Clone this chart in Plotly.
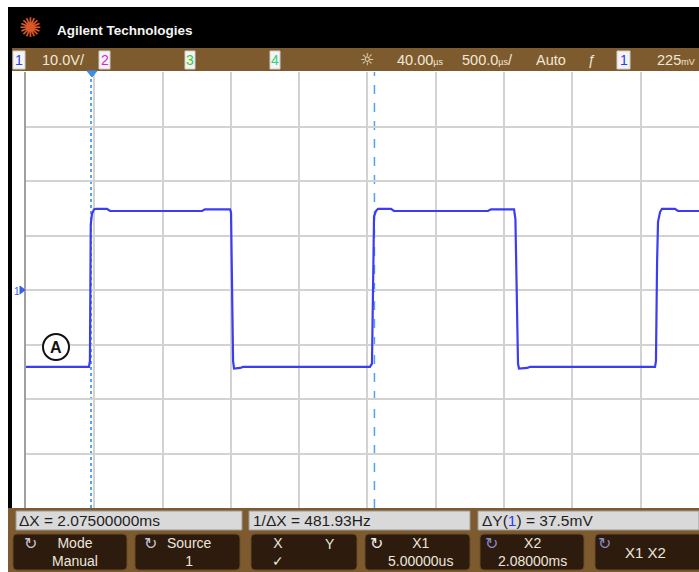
import plotly.graph_objects as go

time_ms = [-0.471, -0.010, -0.003, 0.003, 0.012, 0.027, 0.041, 0.122, 0.144, 0.818, 0.839,
           1.023, 1.030, 1.045, 1.052, 1.096, 1.118,
           2.047, 2.062, 2.069, 2.077, 2.091, 2.106, 2.201, 2.223, 2.911, 2.933,
           3.102, 3.112, 3.131, 3.138, 3.197, 3.219,
           4.134, 4.141, 4.149, 4.156, 4.171, 4.185, 4.280, 4.302, 4.456]
volts = [-14.1, -14.1, -13.0, 12.0, 14.0, 14.8, 14.9, 14.9, 14.5, 14.5, 14.8,
         14.8, 14.2, -13.0, -14.4, -14.3, -14.1,
         -14.1, -13.5, 5.0, 13.5, 14.5, 14.9, 14.9, 14.5, 14.5, 14.8,
         14.8, 13.0, -13.5, -14.4, -14.3, -14.1,
         -14.1, -13.0, 5.0, 12.5, 14.3, 14.9, 14.9, 14.5, 14.5]

cursor_x1_ms = 0.005
cursor_x2_ms = 2.08
volts_per_div = 10.0
time_per_div_ms = 0.5
screen_left_ms = -0.471
screen_right_ms = 4.456
volt_range = [-40, 40]

brand = "Agilent Technologies"
ch_scale = "10.0V/"
h_delay = ("40.00", "µs")
h_scale = ("500.0", "µs", "/")
trig_mode = "Auto"
trig_level = ("225", "mV")
meas_dx = "ΔX = 2.07500000ms"
meas_inv = "1/ΔX = 481.93Hz"
meas_dy_pre = "ΔY("
meas_dy_ch = "1"
meas_dy_post = ") = 37.5mV"
softkeys = [("Mode", "Manual"), ("Source", "1"), ("X", "✓"),
            ("X1", "5.00000us"), ("X2", "2.08000ms"), ("X1 X2", "")]

# ---------------- geometry helpers (pixels -> paper) ----------------
W, H = 699, 572
ML, MR, MT, MB = 26, 0, 72, 64
PW, PH = W - ML - MR, H - MT - MB


def px(x):
    return (x - ML) / PW


def py(y):
    return (H - MB - y) / PH


FONT = "Liberation Sans Narrow, Liberation Sans, Arial, sans-serif"

shapes = []
annots = []


def rect(x0, y0, x1, y1, fill, line=None, lw=0, layer="above"):
    shapes.append(dict(type="rect", xref="paper", yref="paper",
                       x0=px(x0), x1=px(x1), y0=py(y1), y1=py(y0),
                       fillcolor=fill, line=dict(color=line or fill, width=lw),
                       layer=layer))


def rrect(x0, y0, x1, y1, r, fill, line, lw=1):
    p = (f"M {px(x0 + r)},{py(y0)} L {px(x1 - r)},{py(y0)} "
         f"Q {px(x1)},{py(y0)} {px(x1)},{py(y0 + r)} L {px(x1)},{py(y1 - r)} "
         f"Q {px(x1)},{py(y1)} {px(x1 - r)},{py(y1)} L {px(x0 + r)},{py(y1)} "
         f"Q {px(x0)},{py(y1)} {px(x0)},{py(y1 - r)} L {px(x0)},{py(y0 + r)} "
         f"Q {px(x0)},{py(y0)} {px(x0 + r)},{py(y0)} Z")
    shapes.append(dict(type="path", xref="paper", yref="paper", path=p,
                       fillcolor=fill, line=dict(color=line, width=lw), layer="above"))


def text(x, y, s, size=13, color="#f2ead8", anchor="center", bold=False, family=FONT):
    annots.append(dict(xref="paper", yref="paper", x=px(x), y=py(y), text=(f"<b>{s}</b>" if bold else s),
                       showarrow=False, xanchor=anchor, yanchor="middle",
                       font=dict(size=size, color=color, family=family)))


def small(s, size=9):
    return f"<span style='font-size:{size}px'>{s}</span>"


BROWN = "#7e5b2e"
DARK = "#2d1c0d"
STAT = "#f0e8d6"

# header
rect(8, 7, 699, 48, "#000000")
text(30, 28, "✺", size=27, color="#d9582a", family="DejaVu Sans")
text(55, 30, brand, size=13.5, color="#f4f4f4", anchor="left", bold=True,
     family="Liberation Sans, Arial, sans-serif")
# left black bar
rect(8, 7, 12, 508, "#000000")
# status bar
rect(12, 48, 699, 71, BROWN)
rect(13, 51, 25, 69, "#f4f4f4", "#cfcfcf", 1)
text(19, 60, "1", size=14, color="#2a3cff")
text(40, 60, ch_scale, size=14.5, color=STAT, anchor="left")
rect(99, 51, 110, 69, "#f4f4f4", "#cfcfcf", 1)
text(104.5, 60, "2", size=14, color="#e020e0")
rect(185, 51, 195, 69, "#f4f4f4", "#cfcfcf", 1)
text(190, 60, "3", size=14, color="#30d030")
rect(270, 51, 280, 69, "#f4f4f4", "#cfcfcf", 1)
text(275, 60, "4", size=14, color="#30d080")
text(367, 60, "☼", size=16, color=STAT, family="DejaVu Sans")
text(395, 60, h_delay[0] + small(h_delay[1]), size=14.5, color=STAT, anchor="left")
text(460, 60, h_scale[0] + small(h_scale[1]) + h_scale[2], size=14.5, color=STAT, anchor="left")
text(551, 60, trig_mode, size=14.5, color=STAT)
text(592, 60, "ƒ", size=14, color=STAT)
rect(617, 51, 630, 69, "#f4f4f4", "#cfcfcf", 1)
text(623.5, 60, "1", size=14, color="#2a3cff")
text(655, 60, trig_level[0] + small(trig_level[1]), size=14.5, color=STAT, anchor="left")

# bottom panel
rect(8, 508, 699, 572, BROWN)
rect(16, 511, 242, 530, "#d9d9d9", "#9a9a9a", 1)
rect(249, 511, 470, 530, "#d9d9d9", "#9a9a9a", 1)
rect(478, 511, 699, 530, "#d9d9d9", "#9a9a9a", 1)
text(17, 520.5, meas_dx, size=15.5, color="#1e1e1e", anchor="left")
text(251, 520.5, meas_inv, size=15.5, color="#1e1e1e", anchor="left")
text(480, 520.5, f"{meas_dy_pre}<span style='color:#2a3cff'>{meas_dy_ch}</span>{meas_dy_post}",
     size=15.5, color="#1e1e1e", anchor="left")

key_boxes = [(13, 127), (135, 240), (251, 357), (365, 470), (480, 584), (595, 702)]
key_centers = [75, 189, 0, 420, 532, 645]
icon_x = [30, 150, 0, 376, 491, 604]
icon_col = ["#c8c8d8", "#c8c8d8", None, "#f0f0f0", "#8a8ac8", "#8a8ac8"]
KEYTXT = "#ece6dc"
for i, ((x0, x1), (top, bottom)) in enumerate(zip(key_boxes, softkeys)):
    rrect(x0, 534, x1, 570, 4, DARK, "#6a4a28", 1)
    if icon_col[i]:
        text(icon_x[i], 543, "↻", size=16, color=icon_col[i], family="DejaVu Sans")
    if i == 2:
        text(278, 552, f"{top}<br>{bottom}", size=14, color=KEYTXT)
        text(330, 544, "Y", size=14, color=KEYTXT)
    elif bottom == "":
        text(key_centers[i], 552, top, size=15, color=KEYTXT)
    else:
        text(key_centers[i], 552, f"{top}<br>{bottom}", size=14, color=KEYTXT)

# screen markers
shapes.append(dict(type="path", xref="paper", yref="paper", layer="above",
                   path=f"M {px(87)},{py(71)} L {px(97)},{py(71)} L {px(92)},{py(77)} Z",
                   fillcolor="#3a8ef0", line=dict(color="#3a8ef0", width=1)))
text(17, 291, "1", size=10, color="#3a5cf0")
shapes.append(dict(type="path", xref="paper", yref="paper", layer="above",
                   path=f"M {px(20)},{py(286)} L {px(25)},{py(290)} L {px(20)},{py(294)} Z",
                   fillcolor="#3a5cf0", line=dict(color="#3a5cf0", width=1)))
shapes.append(dict(type="circle", xref="paper", yref="paper", layer="above",
                   x0=px(43), x1=px(69), y0=py(360), y1=py(334),
                   fillcolor="white", line=dict(color="#111111", width=2)))
text(56, 347.5, "A", size=16, color="#111111", bold=True, family="Liberation Sans, Arial")

# cursors and reference line
CUR = "#4ea2f2"
shapes.append(dict(type="line", xref="x", yref="paper", x0=cursor_x1_ms, x1=cursor_x1_ms,
                   y0=0, y1=1, line=dict(color=CUR, width=2, dash="dot"), layer="between"))
shapes.append(dict(type="line", xref="x", yref="paper", x0=cursor_x2_ms, x1=cursor_x2_ms,
                   y0=0, y1=1, line=dict(color=CUR, width=1.5, dash="dash"), layer="between"))
shapes.append(dict(type="line", xref="paper", yref="y", x0=0, x1=1, y0=0, y1=0,
                   line=dict(color=CUR, width=1.5, dash="dashdot"), layer="between"))

fig = go.Figure()
fig.add_trace(go.Scatter(x=time_ms, y=volts, mode="lines",
                         line=dict(color="#3c3cf2", width=2.2), hoverinfo="skip",
                         showlegend=False))

fig.update_layout(
    width=W, height=H, autosize=False,
    margin=dict(l=ML, r=MR, t=MT, b=MB, pad=0),
    paper_bgcolor="white", plot_bgcolor="white",
    shapes=shapes, annotations=annots, showlegend=False,
    xaxis=dict(range=[screen_left_ms, screen_right_ms], tick0=screen_left_ms,
               dtick=time_per_div_ms, showgrid=True, gridcolor="#d2d2d2", gridwidth=2,
               showticklabels=False, ticks="", zeroline=False, showline=False,
               fixedrange=True),
    yaxis=dict(range=volt_range, tick0=volt_range[0], dtick=volts_per_div, showgrid=True,
               gridcolor="#d2d2d2", gridwidth=2, showticklabels=False, ticks="",
               zeroline=False, showline=True, linecolor="#a0a0a0", linewidth=2,
               mirror=False, fixedrange=True),
)

fig.write_html("out.html", config={"displayModeBar": False},
               post_script="document.body.style.margin='0';document.body.style.overflow='hidden';")
